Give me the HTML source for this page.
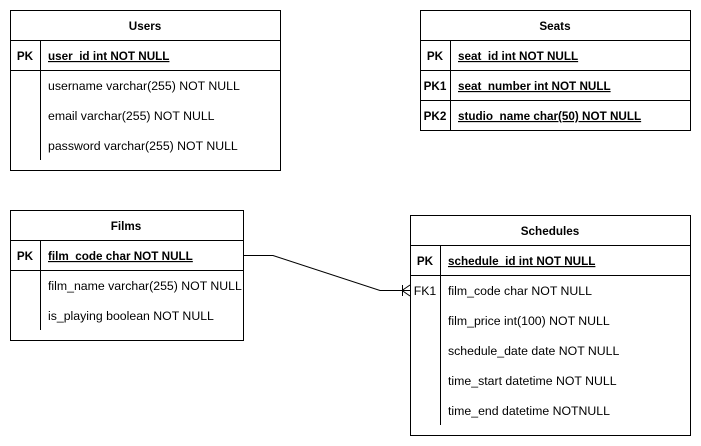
<!DOCTYPE html>
<html><head><style>body{margin:0;background:#fff}svg{display:block}text{font-family:"Liberation Sans",Arial,sans-serif;font-size:12.3px;fill:#000}.b{font-weight:bold;font-size:11.7px}</style></head><body>
<svg width="701" height="446" xmlns="http://www.w3.org/2000/svg" shape-rendering="crispEdges">
<g fill="none" stroke="#000" stroke-width="1">
<rect x="10.5" y="10.5" width="270" height="160"/><line x1="10" y1="40.5" x2="280" y2="40.5"/><line x1="10" y1="70.5" x2="280" y2="70.5"/><line x1="40.5" y1="40" x2="40.5" y2="160"/>
<rect x="420.5" y="10.5" width="270" height="120"/><line x1="420" y1="40.5" x2="690" y2="40.5"/><line x1="420" y1="70.5" x2="690" y2="70.5"/><line x1="420" y1="100.5" x2="690" y2="100.5"/><line x1="450.5" y1="40" x2="450.5" y2="130"/>
<rect x="10.5" y="210.5" width="233" height="130"/><line x1="10" y1="240.5" x2="243" y2="240.5"/><line x1="10" y1="270.5" x2="243" y2="270.5"/><line x1="40.5" y1="240" x2="40.5" y2="330"/>
<rect x="410.5" y="215.5" width="280" height="220"/><line x1="410" y1="245.5" x2="690" y2="245.5"/><line x1="410" y1="275.5" x2="690" y2="275.5"/><line x1="440.5" y1="245" x2="440.5" y2="425"/>
</g>
<g fill="none" stroke="#000" stroke-width="1" shape-rendering="auto">
<polyline points="243,255.5 273,255.5 380,290.5 410,290.5"/>
<line x1="402.5" y1="285" x2="402.5" y2="296"/><line x1="410" y1="285" x2="402" y2="290.5"/><line x1="410" y1="296" x2="402" y2="290.5"/>
</g>
<text x="145" y="30" text-anchor="middle" class="b">Users</text>
<text x="25" y="60" text-anchor="middle" class="b">PK</text>
<text x="48" y="60" class="b" text-decoration="underline">user_id int NOT NULL</text>
<text x="48" y="90">username varchar(255) NOT NULL</text>
<text x="48" y="120">email varchar(255) NOT NULL</text>
<text x="48" y="150">password varchar(255) NOT NULL</text>
<text x="555" y="30" text-anchor="middle" class="b">Seats</text>
<text x="435" y="60" text-anchor="middle" class="b">PK</text>
<text x="435" y="90" text-anchor="middle" class="b">PK1</text>
<text x="435" y="120" text-anchor="middle" class="b">PK2</text>
<text x="458" y="60" class="b" text-decoration="underline">seat_id int NOT NULL</text>
<text x="458" y="90" class="b" text-decoration="underline">seat_number int NOT NULL</text>
<text x="458" y="120" class="b" text-decoration="underline">studio_name char(50) NOT NULL</text>
<text x="126" y="230" text-anchor="middle" class="b">Films</text>
<text x="25" y="260" text-anchor="middle" class="b">PK</text>
<text x="48" y="260" class="b" text-decoration="underline">film_code char NOT NULL</text>
<text x="48" y="290">film_name varchar(255) NOT NULL</text>
<text x="48" y="320">is_playing boolean NOT NULL</text>
<text x="550" y="235" text-anchor="middle" class="b">Schedules</text>
<text x="425" y="265" text-anchor="middle" class="b">PK</text>
<text x="425" y="295" text-anchor="middle">FK1</text>
<text x="448" y="265" class="b" text-decoration="underline">schedule_id int NOT NULL</text>
<text x="448" y="295">film_code char NOT NULL</text>
<text x="448" y="325">film_price int(100) NOT NULL</text>
<text x="448" y="355">schedule_date date NOT NULL</text>
<text x="448" y="385">time_start datetime NOT NULL</text>
<text x="448" y="415">time_end datetime NOTNULL</text>
</svg>
</body></html>
